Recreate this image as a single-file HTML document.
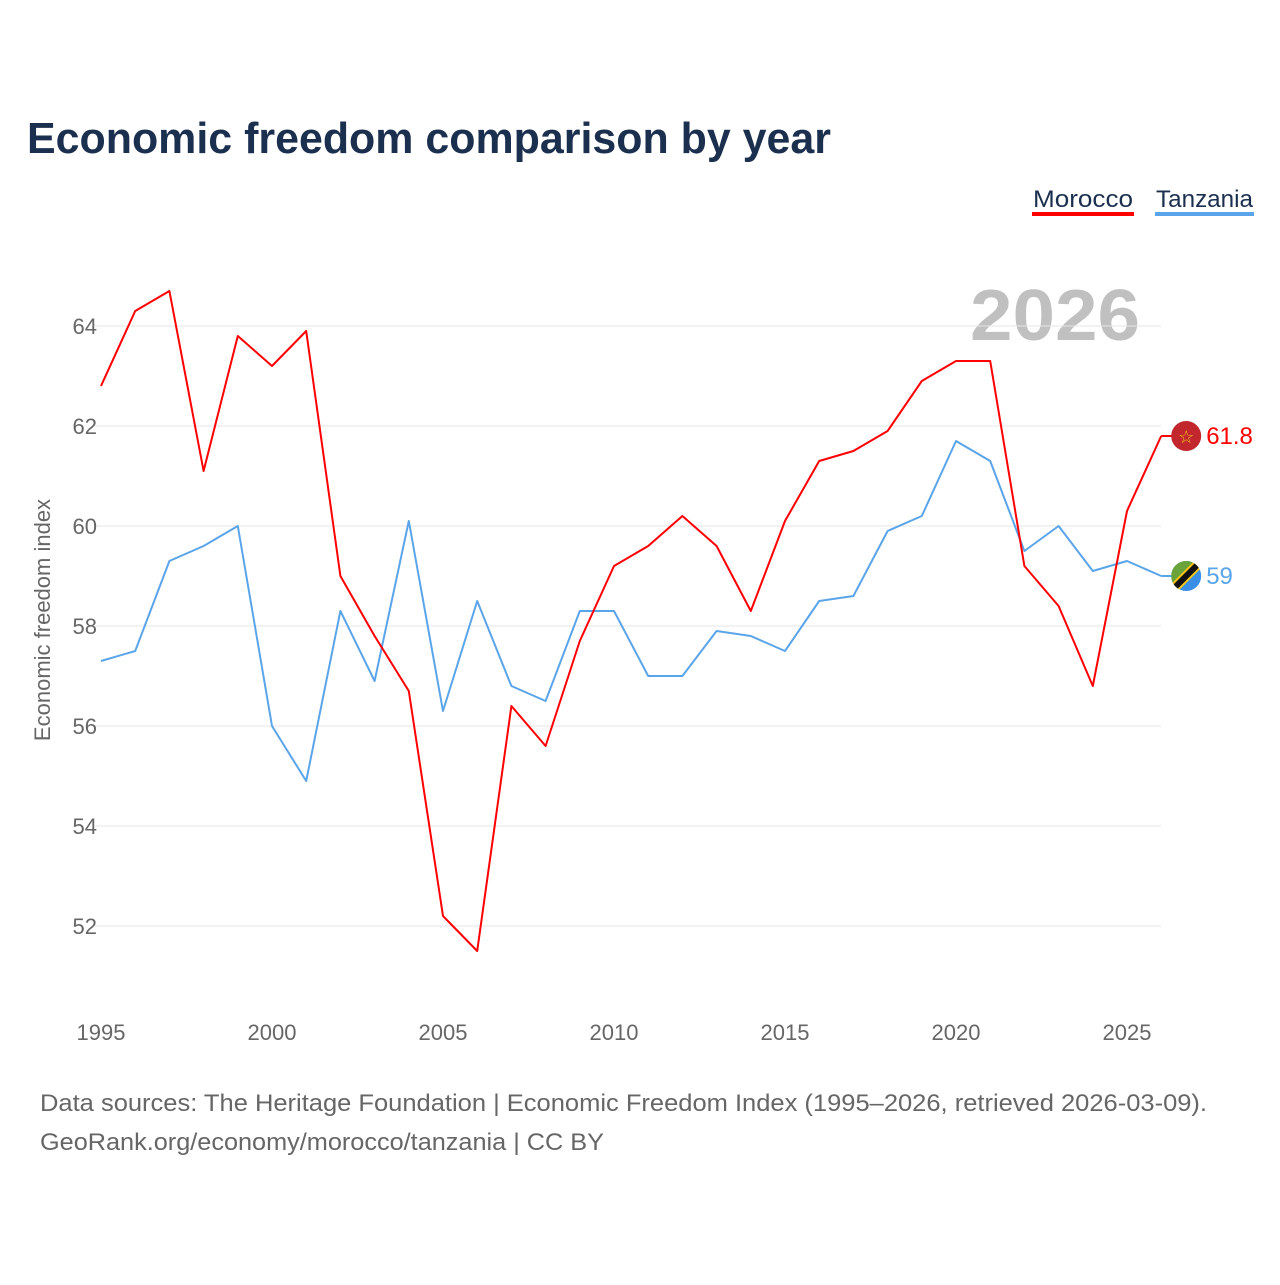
<!DOCTYPE html>
<html><head><meta charset="utf-8"><style>
body{margin:0;width:1280px;height:1280px;background:#fff;font-family:"Liberation Sans",sans-serif;overflow:hidden}
</style></head><body>
<svg id="c" width="1280" height="1280" xmlns="http://www.w3.org/2000/svg">
<text x="27" y="153" font-size="44" font-weight="bold" fill="#1b2f4f" textLength="804" lengthAdjust="spacingAndGlyphs">Economic freedom comparison by year</text>
<g><text x="1033" y="207" font-size="24" fill="#1b2f4f" textLength="100" lengthAdjust="spacingAndGlyphs">Morocco</text><rect x="1032" y="212" width="102" height="4" fill="#ff0000"/></g>
<g><text x="1156" y="207" font-size="24" fill="#1b2f4f" textLength="97" lengthAdjust="spacingAndGlyphs">Tanzania</text><rect x="1155" y="212" width="99" height="4" fill="#5aa5ea"/></g>
<text x="970" y="340" font-size="72" font-weight="bold" fill="#c0c0c0" textLength="170" lengthAdjust="spacingAndGlyphs">2026</text>
<text transform="translate(50,620) rotate(-90)" text-anchor="middle" font-size="22" fill="#666">Economic freedom index</text>
<g id="grid"></g><g id="lines"></g>
<text x="40" y="1111" font-size="24" fill="#666" textLength="1167" lengthAdjust="spacingAndGlyphs">Data sources: The Heritage Foundation | Economic Freedom Index (1995–2026, retrieved 2026-03-09).</text>
<text x="40" y="1150" font-size="24" fill="#666" textLength="564" lengthAdjust="spacingAndGlyphs">GeoRank.org/economy/morocco/tanzania | CC BY</text>
</svg>
<script>
const years=[];for(let y=1995;y<=2026;y++)years.push(y);
const morocco=[62.8,64.3,64.7,61.1,63.8,63.2,63.9,59.0,57.8,56.7,52.2,51.5,56.4,55.6,57.7,59.2,59.6,60.2,59.6,58.3,60.1,61.3,61.5,61.9,62.9,63.3,63.3,59.2,58.4,56.8,60.3,61.8];
const tanzania=[57.3,57.5,59.3,59.6,60.0,56.0,54.9,58.3,56.9,60.1,56.3,58.5,56.8,56.5,58.3,58.3,57.0,57.0,57.9,57.8,57.5,58.5,58.6,59.9,60.2,61.7,61.3,59.5,60.0,59.1,59.3,59.0];
const yTicks=[52,54,56,58,60,62,64];
const xTicks=[1995,2000,2005,2010,2015,2020,2025];
const X=y=>101+(y-1995)*34.2, Y=v=>326+(64-v)*50;
const NS="http://www.w3.org/2000/svg";
function mk(t,a,p){const e=document.createElementNS(NS,t);for(const k in a)e.setAttribute(k,a[k]);p.appendChild(e);return e;}
const g=document.getElementById('grid'),L=document.getElementById('lines');
yTicks.forEach(v=>{
 const l=mk('line',{x1:95,x2:1161,y1:Y(v),y2:Y(v),stroke:'#e6e6e6'},g);
 
 
 const t=mk('text',{x:97,y:Y(v)+8,'text-anchor':'end','font-size':22,fill:'#666'},g);t.textContent=v;
 
 
});
xTicks.forEach(v=>{
 const t=mk('text',{x:X(v),y:1040,'text-anchor':'middle','font-size':22,fill:'#666'},g);t.textContent=v;
 
 
});
function series(d,col,name,val){
 const p=mk('polyline',{points:d.map((v,i)=>X(years[i])+','+Y(v)).join(' '),fill:'none',stroke:col,'stroke-width':2,'stroke-linejoin':'round'},L);
 
 
 const last=d[d.length-1],x=X(years[years.length-1])+25,y=Y(last);
 mk('line',{x1:x-25,x2:x-14,y1:y,y2:y,stroke:col,'stroke-width':2},L);
 const f=mk('g',{},L);
 
 
 if(name==='morocco'){
  mk('circle',{cx:x,cy:y,r:15,fill:'#c1272d'},f);
  const s=mk('text',{x:x,y:y+7,'text-anchor':'middle','font-size':18,fill:'#f5c518'},f);s.textContent='☆';
 }else{
  mk('clipPath',{id:'tz'},f).appendChild(document.createElementNS(NS,'circle'));
  const cc=f.querySelector('#tz circle');cc.setAttribute('cx',x);cc.setAttribute('cy',y);cc.setAttribute('r',15);
  const gg=mk('g',{'clip-path':'url(#tz)'},f);
  mk('rect',{x:x-15,y:y-15,width:30,height:30,fill:'#3a8ee6'},gg);
  mk('polygon',{points:`${x-15},${y-15} ${x+15},${y-15} ${x-15},${y+15}`,fill:'#6aa33a'},gg);
  mk('line',{x1:x-16,y1:y+16,x2:x+16,y2:y-16,stroke:'#f5c518','stroke-width':10},gg);
  mk('line',{x1:x-16,y1:y+16,x2:x+16,y2:y-16,stroke:'#111','stroke-width':6},gg);
 }
 const t=mk('text',{x:x+20,y:y+8,'font-size':24,fill:col},L);t.textContent=val;
 
 
}
series(tanzania,'#5aa5ea','tanzania','59');
series(morocco,'#ff0000','morocco','61.8');
</script>
</body></html>
